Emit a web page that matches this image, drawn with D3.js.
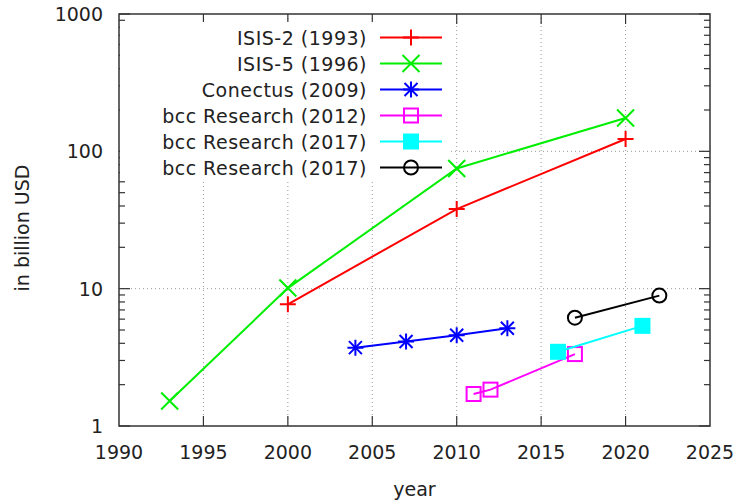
<!DOCTYPE html>
<html>
<head>
<meta charset="utf-8">
<script src="https://cdn.jsdelivr.net/npm/d3@7"></script>
<style>
    body { margin: 0; background: #fff; }
    text { font-family: "DejaVu Sans", Verdana, sans-serif; fill: #222; }
</style>
</head>
<body>
<div id="chart"></div>
<script>
// values (billion USD)
var isis2Years = [2000, 2010, 2020];
var isis2Values = [7.7, 38, 123];
var isis5Years = [1993, 2000, 2010, 2020];
var isis5Values = [1.52, 10.1, 75, 175];
var conectusYears = [2004, 2007, 2010, 2013];
var conectusValues = [3.72, 4.12, 4.58, 5.15];
var bcc2012Years = [2011, 2012, 2017];
var bcc2012Values = [1.71, 1.84, 3.34];
var bcc2017Years = [2016, 2021];
var bcc2017Values = [3.47, 5.36];
var bcc2017bYears = [2017, 2022];
var bcc2017bValues = [6.15, 8.9];

var seriesNames = ["ISIS-2 (1993)", "ISIS-5 (1996)", "Conectus (2009)",
    "bcc Research (2012)", "bcc Research (2017)", "bcc Research (2017)"];
var xTicks = [1990, 1995, 2000, 2005, 2010, 2015, 2020, 2025];
var yTicks = [1, 10, 100, 1000];

var series = [
    {name: seriesNames[0], years: isis2Years, values: isis2Values, color: "#ff0000", marker: "plus"},
    {name: seriesNames[1], years: isis5Years, values: isis5Values, color: "#00ee00", marker: "cross"},
    {name: seriesNames[2], years: conectusYears, values: conectusValues, color: "#0000ff", marker: "star"},
    {name: seriesNames[3], years: bcc2012Years, values: bcc2012Values, color: "#ff00ff", marker: "square"},
    {name: seriesNames[4], years: bcc2017Years, values: bcc2017Values, color: "#00ffff", marker: "fsquare"},
    {name: seriesNames[5], years: bcc2017bYears, values: bcc2017bValues, color: "#000000", marker: "circle"}
];

var width = 740, height = 504;
// plot frame (window.top is taken, so p-prefixed names)
var pLeft = 119, pRight = 710, pTop = 14, pBottom = 426;

var svg = d3.select("#chart").append("svg")
    .attr("width", width)
    .attr("height", height);

var x = d3.scaleLinear().domain([1990, 2025]).range([pLeft, pRight]);
var y = d3.scaleLog().domain([1, 1000]).range([pBottom, pTop]);

// grid
var grid = svg.append("g")
    .attr("stroke", "#999")
    .attr("stroke-width", 1)
    .attr("stroke-dasharray", "1,3");
grid.selectAll(".gx").data(xTicks.slice(1, -1)).enter().append("line")
    .attr("x1", function(d) { return x(d); })
    .attr("x2", function(d) { return x(d); })
    .attr("y1", pTop).attr("y2", pBottom);
grid.selectAll(".gy").data(yTicks.slice(1, -1)).enter().append("line")
    .attr("x1", pLeft).attr("x2", pRight)
    .attr("y1", function(d) { return y(d); })
    .attr("y2", function(d) { return y(d); });

// ticks on all four sides, pointing inward
var minor = [];
for (var dec = 1; dec < 1000; dec *= 10) {
    for (var m = 2; m < 10; m++) minor.push(dec * m);
}
var ticks = svg.append("g").attr("stroke", "#333").attr("stroke-width", 1.2);
xTicks.slice(1, -1).forEach(function(t) {
    ticks.append("line").attr("x1", x(t)).attr("x2", x(t)).attr("y1", pBottom).attr("y2", pBottom - 10);
    ticks.append("line").attr("x1", x(t)).attr("x2", x(t)).attr("y1", pTop).attr("y2", pTop + 10);
});
yTicks.forEach(function(t) {
    ticks.append("line").attr("x1", pLeft).attr("x2", pLeft + 11).attr("y1", y(t)).attr("y2", y(t));
    ticks.append("line").attr("x1", pRight).attr("x2", pRight - 11).attr("y1", y(t)).attr("y2", y(t));
});
minor.forEach(function(t) {
    ticks.append("line").attr("x1", pLeft).attr("x2", pLeft + 6).attr("y1", y(t)).attr("y2", y(t));
    ticks.append("line").attr("x1", pRight).attr("x2", pRight - 6).attr("y1", y(t)).attr("y2", y(t));
});

// tick labels
svg.append("g").selectAll("text").data(xTicks).enter().append("text")
    .attr("x", function(d) { return x(d); })
    .attr("y", pBottom + 33)
    .attr("text-anchor", "middle")
    .style("font-size", "19px")
    .text(function(d) { return d; });
svg.append("g").selectAll("text").data(yTicks).enter().append("text")
    .attr("x", 103)
    .attr("y", function(d) { return y(d) + 7; })
    .attr("text-anchor", "end")
    .style("font-size", "19px")
    .text(function(d) { return d; });

svg.append("text")
    .attr("x", (pLeft + pRight) / 2)
    .attr("y", 496)
    .attr("text-anchor", "middle")
    .style("font-size", "19px")
    .text("year");
svg.append("text")
    .attr("transform", "translate(29,228) rotate(-90)")
    .attr("text-anchor", "middle")
    .style("font-size", "19px")
    .text("in billion USD");

function drawMarker(g, type, cx, cy, color) {
    var s = 8;
    if (type == "plus" || type == "star") {
        g.append("path").attr("d", "M" + (cx - s) + "," + cy + "H" + (cx + s) + "M" + cx + "," + (cy - s) + "V" + (cy + s))
            .attr("stroke", color).attr("stroke-width", 2).attr("fill", "none");
    }
    if (type == "cross" || type == "star") {
        var c = type == "star" ? 6.5 : 8.5;
        g.append("path").attr("d", "M" + (cx - c) + "," + (cy - c) + "L" + (cx + c) + "," + (cy + c) +
                "M" + (cx - c) + "," + (cy + c) + "L" + (cx + c) + "," + (cy - c))
            .attr("stroke", color).attr("stroke-width", 2).attr("fill", "none");
    }
    if (type == "square") {
        g.append("rect").attr("x", cx - 7).attr("y", cy - 7).attr("width", 14).attr("height", 14)
            .attr("stroke", color).attr("stroke-width", 2).attr("fill", "none");
    }
    if (type == "fsquare") {
        g.append("rect").attr("x", cx - 8).attr("y", cy - 8).attr("width", 16).attr("height", 16)
            .attr("fill", color);
    }
    if (type == "circle") {
        g.append("circle").attr("cx", cx).attr("cy", cy).attr("r", 7)
            .attr("stroke", color).attr("stroke-width", 2).attr("fill", "none");
    }
}

var line = d3.line()
    .x(function(d) { return x(d[0]); })
    .y(function(d) { return y(d[1]); });

// legend box is opaque and hides the grid behind it
svg.append("rect")
    .attr("x", pLeft + 1).attr("y", 22)
    .attr("width", 450 - pLeft).attr("height", 159)
    .attr("fill", "#fff");

series.forEach(function(s, i) {
    var g = svg.append("g");
    var pts = s.years.map(function(yr, j) { return [yr, s.values[j]]; });
    g.append("path")
        .attr("d", line(pts))
        .attr("fill", "none")
        .attr("stroke", s.color)
        .attr("stroke-width", 2);
    pts.forEach(function(p) {
        drawMarker(g, s.marker, x(p[0]), y(p[1]), s.color);
    });

    // legend entry
    var ly = 37.5 + i * 26;
    svg.append("text")
        .attr("x", 367)
        .attr("y", ly + 7)
        .attr("text-anchor", "end")
        .style("font-size", "19px")
        .style("letter-spacing", "0.5px")
        .text(s.name);
    svg.append("line")
        .attr("x1", 380).attr("x2", 442)
        .attr("y1", ly).attr("y2", ly)
        .attr("stroke", s.color).attr("stroke-width", 2);
    drawMarker(svg, s.marker, 411, ly, s.color);
});

// frame
svg.append("rect")
    .attr("x", pLeft).attr("y", pTop)
    .attr("width", pRight - pLeft).attr("height", pBottom - pTop)
    .attr("fill", "none")
    .attr("stroke", "#333")
    .attr("stroke-width", 1.5);
</script>
</body>
</html>
